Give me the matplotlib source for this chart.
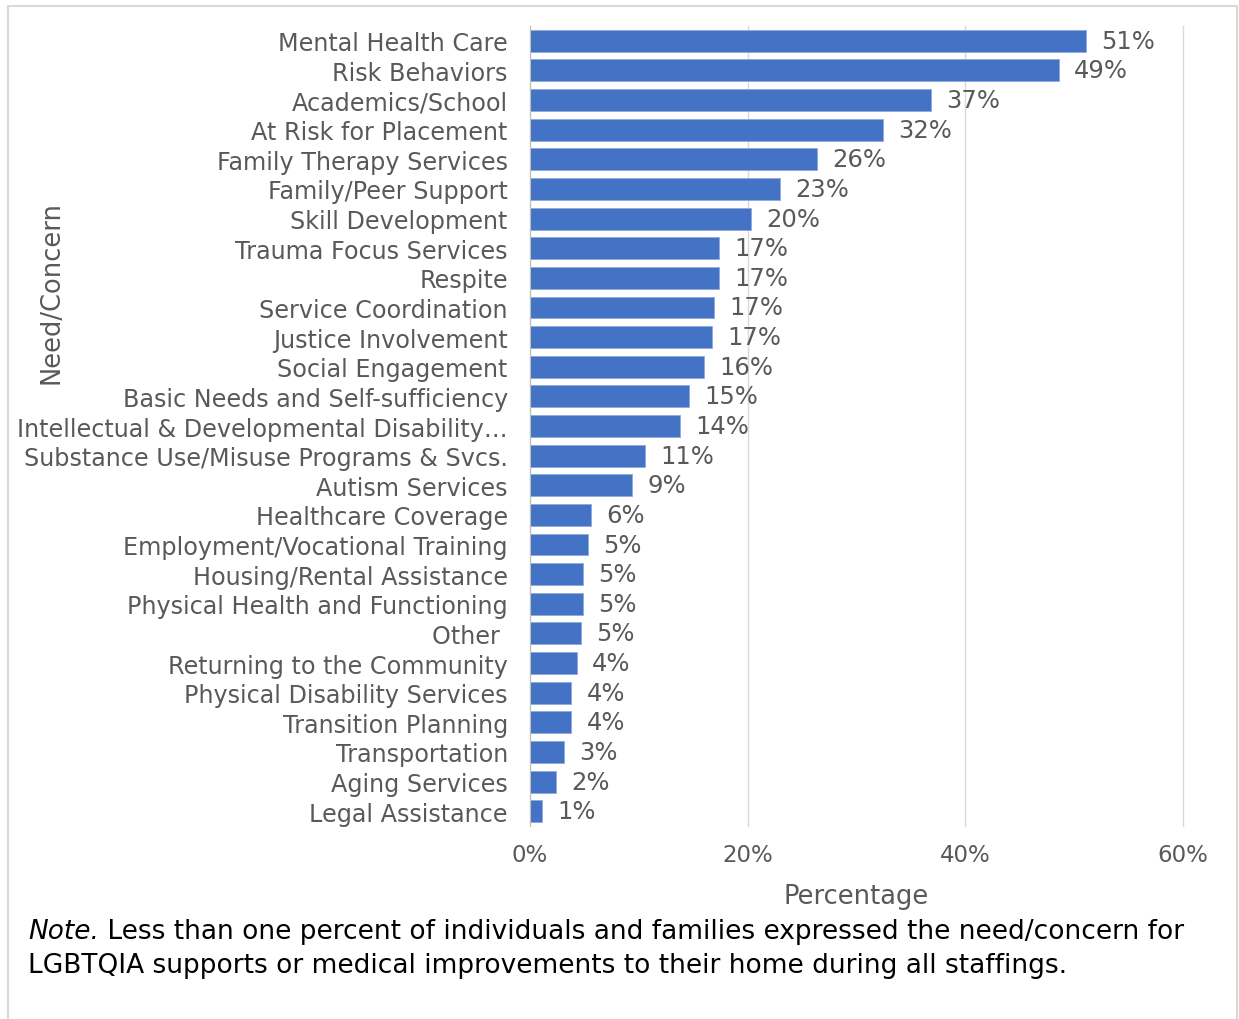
import matplotlib.pyplot as plt
from matplotlib.patches import Rectangle

categories = [
    "Mental Health Care", "Risk Behaviors", "Academics/School",
    "At Risk for Placement", "Family Therapy Services", "Family/Peer Support",
    "Skill Development", "Trauma Focus Services", "Respite",
    "Service Coordination", "Justice Involvement", "Social Engagement",
    "Basic Needs and Self-sufficiency", "Intellectual & Developmental Disability\u2026",
    "Substance Use/Misuse Programs & Svcs.", "Autism Services",
    "Healthcare Coverage", "Employment/Vocational Training",
    "Housing/Rental Assistance", "Physical Health and Functioning", "Other ",
    "Returning to the Community", "Physical Disability Services",
    "Transition Planning", "Transportation", "Aging Services", "Legal Assistance",
]
percent = [
    51.1, 48.6, 36.8, 32.4, 26.4, 23.0, 20.3, 17.4, 17.4, 16.9, 16.7, 16.0,
    14.6, 13.8, 10.6, 9.4, 5.6, 5.3, 4.9, 4.9, 4.7, 4.3, 3.8, 3.8, 3.1, 2.4, 1.1,
]
x_ticks = [0, 20, 40, 60]

W, H = 1239, 1020
BLUE = "#4472C4"
GRAY = "#595959"
GRID = "#D9D9D9"

plt.rcParams["font.family"] = ["DejaVu Sans"]

fig = plt.figure(figsize=(W / 100, H / 100), dpi=100)
fig.patches.append(Rectangle((8 / W, -0.01), (1237 - 8) / W, 1.01 - 7 / H,
                             transform=fig.transFigure, fill=False,
                             edgecolor="#D9D9D9", lw=1.5))

left, right, top, bottom = 530, 1183, 27, 827
ax = fig.add_axes([left / W, 1 - bottom / H, (right - left) / W, (bottom - top) / H])

y = list(range(len(categories)))
bars = ax.barh(y, percent, height=0.74, color=BLUE, edgecolor="#8FAADC", linewidth=0.6)
ax.bar_label(bars, labels=[f"{v:.0f}%" for v in percent], padding=11,
             fontsize=17.5, color=GRAY)

ax.set_ylim(len(categories) - 0.5, -0.5)
ax.set_xlim(0, 60)
ax.set_yticks(y)
ax.set_yticklabels(categories)
ax.set_xticks(x_ticks)
ax.set_xticklabels([f"{t}%" for t in x_ticks])
ax.tick_params(axis="y", length=0, pad=16, labelsize=17.2, labelcolor=GRAY)
ax.tick_params(axis="x", length=0, pad=12, labelsize=16.5, labelcolor=GRAY)

ax.grid(axis="x", color=GRID, lw=1)
for line in ax.get_xgridlines():
    line.set_clip_on(False)
ax.set_axisbelow(True)
for side in ["top", "right", "bottom"]:
    ax.spines[side].set_visible(False)
ax.spines["left"].set_color("#BFBFBF")

fig.text(856 / W, 1 - 897 / H, "Percentage", ha="center", va="center",
         fontsize=18.5, color=GRAY)
fig.text(52 / W, 1 - 292 / H, "Need/Concern", rotation=90, ha="center",
         va="center", fontsize=18.5, color=GRAY)

# footnote with italic lead-in
note = fig.text(28 / W, 1 - 932 / H, "Note.", style="italic", ha="left",
                va="center", fontsize=19, color="black")
ax.annotate(" Less than one percent of individuals and families expressed the need/concern for",
            xy=(1, 0.5), xycoords=note, ha="left", va="center",
            fontsize=19, color="black", annotation_clip=False)
fig.text(28 / W, 1 - 966 / H,
         "LGBTQIA supports or medical improvements to their home during all staffings.",
         ha="left", va="center", fontsize=19, color="black")

fig.savefig("out.png", dpi=100)
